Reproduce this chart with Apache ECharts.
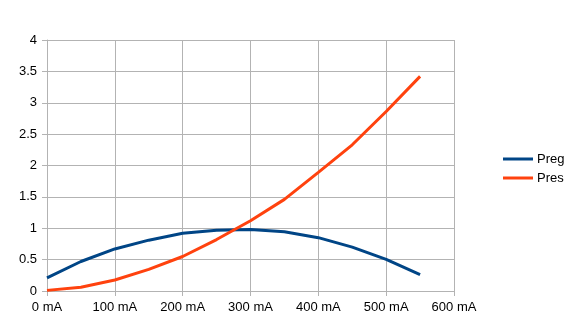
<!DOCTYPE html>
<html><head><meta charset="utf-8">
<script src="https://cdn.jsdelivr.net/npm/echarts@6/dist/echarts.min.js"></script>
<style>html,body{margin:0;padding:0;background:#fff}#c{width:567px;height:330px}</style>
</head><body><div id="c"></div>
<script>
const currents = [0, 50, 100, 150, 200, 250, 300, 350, 400, 450, 500, 550];
const preg = [0.21, 0.47, 0.67, 0.81, 0.92, 0.97, 0.98, 0.945, 0.85, 0.70, 0.505, 0.26];
const pres = [0.01, 0.06, 0.175, 0.345, 0.55, 0.82, 1.12, 1.46, 1.89, 2.33, 2.86, 3.42];
const seriesNames = ['Preg', 'Pres'];

const chart = echarts.init(document.getElementById('c'), null, {renderer: 'canvas'});
const font = {fontFamily: 'Liberation Sans', fontSize: 13, color: '#000'};
chart.setOption({
  animation: false,
  backgroundColor: '#fff',
  grid: {left: 47, right: 113, top: 40, bottom: 39, containLabel: false},
  xAxis: {
    type: 'value', min: 0, max: 600, interval: 100,
    axisLine: {show: true, lineStyle: {color: '#b3b3b3', width: 1}},
    axisTick: {show: true, length: 5, lineStyle: {color: '#b3b3b3'}},
    splitLine: {show: true, lineStyle: {color: '#b3b3b3', width: 1}},
    axisLabel: Object.assign({formatter: v => v + ' mA', margin: 10}, font)
  },
  yAxis: {
    type: 'value', min: 0, max: 4, interval: 0.5,
    axisLine: {show: true, lineStyle: {color: '#b3b3b3', width: 1}},
    axisTick: {show: true, length: 5, lineStyle: {color: '#b3b3b3'}},
    splitLine: {show: true, lineStyle: {color: '#b3b3b3', width: 1}},
    axisLabel: Object.assign({margin: 10}, font)
  },
  legend: {
    orient: 'vertical', left: 503, top: 152, padding: 0,
    itemWidth: 30, itemHeight: 3, itemGap: 5,
    icon: 'rect',
    textStyle: Object.assign({lineHeight: 14, padding: [0, 0, 0, -1]}, font),
    data: seriesNames
  },
  series: [
    {name: seriesNames[0], type: 'line', data: currents.map((x, i) => [x, preg[i]]),
     showSymbol: false, lineStyle: {color: '#004586', width: 3}, itemStyle: {color: '#004586'}},
    {name: seriesNames[1], type: 'line', data: currents.map((x, i) => [x, pres[i]]),
     showSymbol: false, lineStyle: {color: '#ff420e', width: 3}, itemStyle: {color: '#ff420e'}}
  ]
});
</script></body></html>
